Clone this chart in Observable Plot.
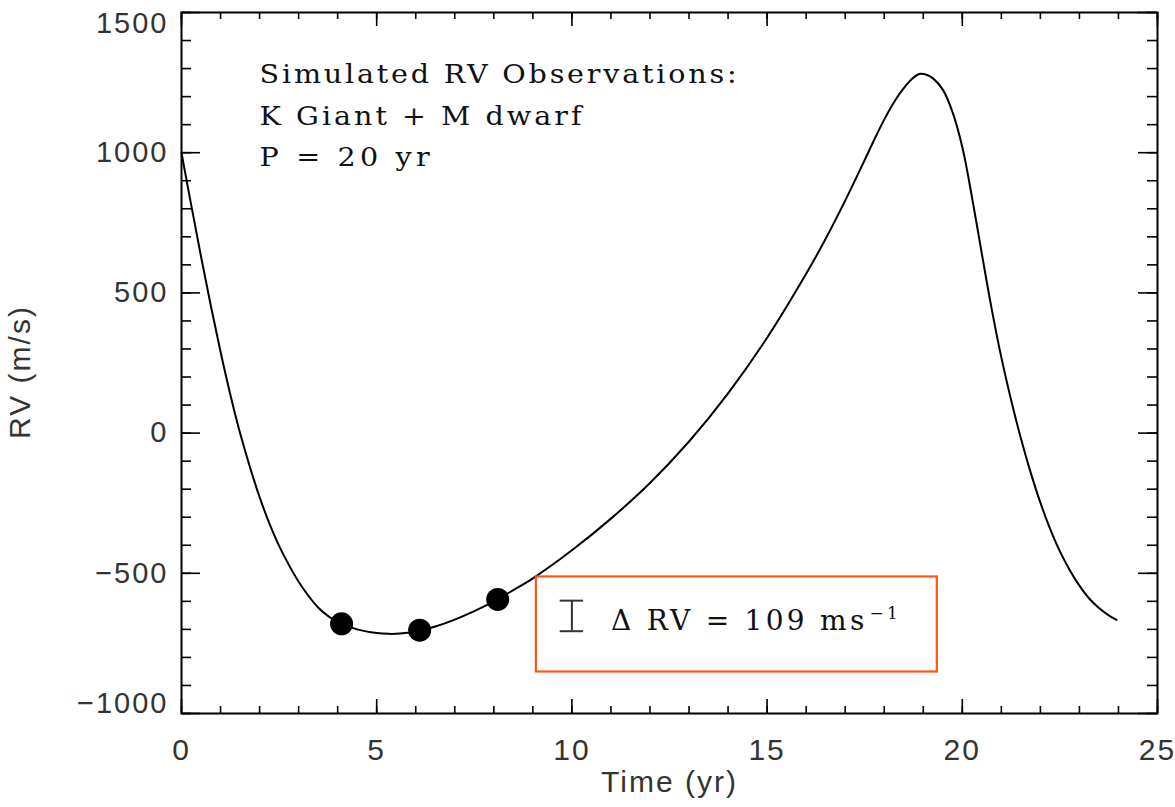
<!DOCTYPE html>
<html>
<head>
<meta charset="utf-8">
<script src="https://cdn.jsdelivr.net/npm/d3@7"></script>
<script src="https://cdn.jsdelivr.net/npm/@observablehq/plot@0.6"></script>
<style>
  html, body { margin: 0; padding: 0; background: #fff; }
  #chart svg { display: block; }
</style>
</head>
<body>
<div id="chart"></div>
<script>
// ---- Data ----
const timeYr = [0.0, 0.25, 0.5, 0.75, 1.0, 1.25, 1.5, 1.75, 2.0, 2.25, 2.5, 2.75, 3.0, 3.25, 3.5, 3.75, 4.0, 4.1, 4.5, 5.0, 5.3, 5.6, 6.1, 6.5, 7.0, 7.5, 8.0, 8.5, 9.0, 10.0, 11.0, 12.0, 13.0, 14.0, 15.0, 16.0, 16.5, 17.0, 17.5, 17.75, 18.0, 18.25, 18.5, 18.7, 18.9, 19.1, 19.25, 19.5, 19.75, 20.0, 20.25, 20.5, 20.75, 21.0, 21.25, 21.5, 21.75, 22.0, 22.25, 22.5, 22.75, 23.0, 23.25, 23.5, 23.75, 23.95];
const rvMs   = [1000, 812, 630, 455, 290, 138, 0, -120, -228, -322, -402, -470, -530, -580, -622, -652, -673, -680, -700, -713, -716, -715, -705, -690, -665, -635, -600, -560, -518, -418, -305, -178, -30, 142, 340, 568, 693, 829, 974, 1048, 1118, 1180, 1230, 1262, 1281, 1277, 1265, 1225, 1145, 1020, 840, 640, 445, 270, 118, -18, -140, -248, -342, -422, -488, -544, -590, -624, -650, -666];

const obsTime = [4.1, 6.1, 8.1];
const obsRV   = [-680, -703, -593];

const xMajorTicks = [0, 5, 10, 15, 20, 25];
const yMajorTicks = [-1000, -500, 0, 500, 1000, 1500];
const xMinorTicks = d3.range(0, 26, 1);
const yMinorTicks = d3.range(-1000, 1501, 100);

const annotLines = ["Simulated RV Observations:", "K Giant + M dwarf", "P = 20 yr"];
const deltaRV = 109;
const boxLabel = "Δ RV = 109 ms";
const boxLabelSup = "−1";

// ---- Build tables ----
const curve = timeYr.map((t, i) => ({t, rv: rvMs[i]}));
const obs = obsTime.map((t, i) => ({t, rv: obsRV[i]}));

// annotation placement (data coordinates)
const annotPos = [{x: 2, y: 1280}, {x: 2, y: 1130}, {x: 2, y: 983}];
const annot = annotLines.map((s, i) => ({s, ...annotPos[i]}));
const errBar = {t: 10, rv: -652, d: deltaRV};
const labelRow = {t: 11.0, rv: -670, s: boxLabel};
const box = {x1: 9.09, x2: 19.36, y1: -852, y2: -513};

const W = 1175, H = 807, mL = 181, mR = 18, mT = 12, mB = 94;
const iw = W - mL - mR, ih = H - mT - mB;
const fmt = d => d < 0 ? "\u2212" + Math.abs(d) : String(d);
const serif = "DejaVu Serif, Liberation Serif, serif";
const labelColor = "#333";

const svg = Plot.plot({
  width: W, height: H,
  marginLeft: mL, marginRight: mR, marginTop: mT, marginBottom: mB,
  style: {fontFamily: "Liberation Sans, Arial, sans-serif", background: "#fff", color: "#000", letterSpacing: "2px"},
  x: {domain: [0, 25], axis: null},
  y: {domain: [-1000, 1500], axis: null},
  marks: [
    // inward ticks on all four sides
    Plot.tickX(xMinorTicks, {x: d => d, insetTop: ih - 7, stroke: "#000", strokeWidth: 1.6}),
    Plot.tickX(xMajorTicks, {x: d => d, insetTop: ih - 14, stroke: "#000", strokeWidth: 1.6}),
    Plot.tickX(xMinorTicks, {x: d => d, insetBottom: ih - 7, stroke: "#000", strokeWidth: 1.6}),
    Plot.tickX(xMajorTicks, {x: d => d, insetBottom: ih - 14, stroke: "#000", strokeWidth: 1.6}),
    Plot.tickY(yMinorTicks, {y: d => d, insetRight: iw - 10, stroke: "#000", strokeWidth: 1.6}),
    Plot.tickY(yMajorTicks, {y: d => d, insetRight: iw - 19, stroke: "#000", strokeWidth: 1.6}),
    Plot.tickY(yMinorTicks, {y: d => d, insetLeft: iw - 10, stroke: "#000", strokeWidth: 1.6}),
    Plot.tickY(yMajorTicks, {y: d => d, insetLeft: iw - 19, stroke: "#000", strokeWidth: 1.6}),
    Plot.frame({stroke: "#000", strokeWidth: 2}),
    // tick labels
    Plot.axisX(xMajorTicks, {tickSize: 0, tickPadding: 25, fontSize: 30, fill: labelColor, tickFormat: fmt, label: null}),
    Plot.axisY(yMajorTicks, {tickSize: 0, tickPadding: 13, fontSize: 29, fill: labelColor, tickFormat: fmt, label: null}),
    // axis titles
    Plot.text(["Time (yr)"], {text: d => d, frameAnchor: "bottom", dy: 78, fontSize: 30, fill: labelColor}),
    Plot.text(["RV (m/s)"], {text: d => d, frameAnchor: "left", textAnchor: "middle", dx: -161, dy: 9, rotate: -90, fontSize: 30, fill: labelColor}),
    // RV curve and observations
    Plot.line(curve, {x: "t", y: "rv", curve: "catmull-rom", stroke: "#000", strokeWidth: 2}),
    Plot.dot(obs, {x: "t", y: "rv", r: 11.5, fill: "#000", stroke: "none"}),
    // annotation text
    Plot.text(annot, {x: "x", y: "y", text: "s", textAnchor: "start", lineAnchor: "middle", fontFamily: serif, fontSize: 26, fill: "#111"}),
    // error-bar legend box
    Plot.rect([box], {x1: "x1", x2: "x2", y1: "y1", y2: "y2", fill: "none", stroke: "#ff5514", strokeWidth: 2.2}),
    Plot.ruleX([errBar], {x: "t", y1: d => d.rv - d.d / 2, y2: d => d.rv + d.d / 2, stroke: "#333", strokeWidth: 2}),
    Plot.ruleY([errBar], {y: d => d.rv - d.d / 2, x1: d => d.t - 0.3, x2: d => d.t + 0.3, stroke: "#333", strokeWidth: 2}),
    Plot.ruleY([errBar], {y: d => d.rv + d.d / 2, x1: d => d.t - 0.3, x2: d => d.t + 0.3, stroke: "#333", strokeWidth: 2}),
    Plot.text([labelRow], {x: "t", y: "rv", text: "s", textAnchor: "start", lineAnchor: "middle", fontFamily: serif, fontSize: 28, fill: "#111"})
  ]
});

// wide Hershey-like lettering: stretch glyphs a little and fit to measured widths
const stretch = 1.1;
const widths = {"Simulated RV Observations:": 477, "K Giant + M dwarf": 322, "P = 20 yr": 170};
d3.select(svg).selectAll("text").each(function () {
  const s = this.textContent;
  if (widths[s] !== undefined) {
    this.style.letterSpacing = "0px";
    this.setAttribute("transform", (this.getAttribute("transform") || "") + ` scale(${stretch},1)`);
    this.setAttribute("textLength", widths[s] / stretch);
    this.setAttribute("lengthAdjust", "spacing");
  }
  if (s === boxLabel) {
    this.style.letterSpacing = "0px";
    const sup = document.createElementNS("http://www.w3.org/2000/svg", "tspan");
    sup.textContent = boxLabelSup;
    sup.setAttribute("font-size", "17");
    sup.setAttribute("dy", "-11");
    sup.setAttribute("dx", "2");
    this.appendChild(sup);
    this.setAttribute("textLength", 287);
    this.setAttribute("lengthAdjust", "spacing");
  }
  // nudge extreme y labels inward as in the reference
  if (s === "1500") this.setAttribute("transform", (this.getAttribute("transform") || "") + " translate(0,11)");
  if (s === "\u22121000") this.setAttribute("transform", (this.getAttribute("transform") || "") + " translate(0,-10)");
});

document.getElementById("chart").appendChild(svg);
</script>
</body>
</html>
